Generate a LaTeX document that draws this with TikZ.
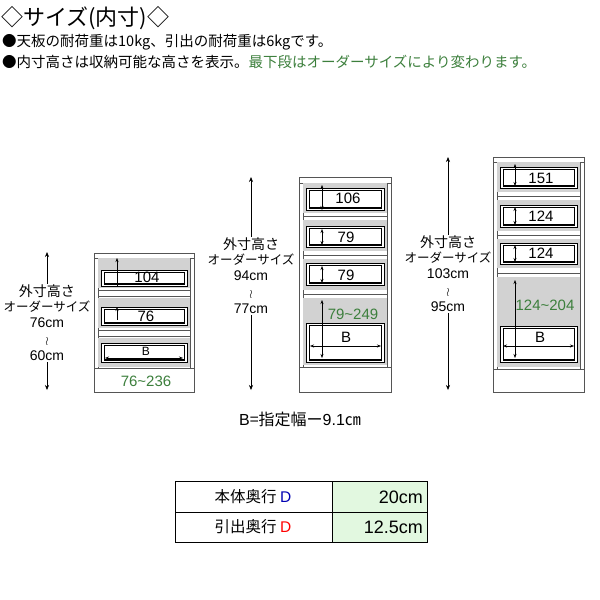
\documentclass[tikz,border=0pt]{standalone}
\usepackage{fontspec}
\setmainfont{Noto Sans CJK JP}
\newfontfamily\latinf{Liberation Sans}
\usetikzlibrary{arrows.meta}
\definecolor{cabgray}{HTML}{D2D2D2}
\definecolor{txtgreen}{HTML}{3C7F3C}
\definecolor{tabgreen}{HTML}{E2F8E0}
\definecolor{outl}{HTML}{555555}
\tikzset{
 cab/.style={draw=outl,line width=0.7pt,fill=white},
 face/.style={draw=black,line width=0.6pt,fill=white},
 dim/.style={line width=0.5pt,{Stealth[length=4pt,width=3pt]}-{Stealth[length=4pt,width=3pt]}},
 lab/.style={fill=white,align=center,inner sep=1pt,font=\fontsize{14}{16.5}\selectfont},
 num/.style={font=\latinf\fontsize{15}{15}\selectfont,inner sep=0pt},
 gnum/.style={num,text=txtgreen},
 bigarr/.style={line width=0.6pt,-{Stealth[length=5pt,width=4pt]}},
}
\newcommand\drw[6]{%
 \fill[cabgray] (#1,#3) rectangle (#2,#4);
 \draw[face] ({#1+3},#5) rectangle ({#2-3},#6);
 \draw[line width=0.5pt] ({#1+6},{#5+2}) rectangle ({#2-6},{#6-2});
 \draw[line width=1.3pt] ({#1+6},{#6-2.5}) -- ({#2-6},{#6-2.5});}
\newcommand\oss{{\fontsize{12.5}{13}\selectfont オーダーサイズ}}
\newcommand\wav{{\fontsize{12}{8}\selectfont $\wr$}}
\begin{document}
\begin{tikzpicture}[x=1pt,y=-1pt]
\useasboundingbox (0,0) rectangle (600,600);
% header
\node[anchor=west,inner sep=0pt,font=\fontsize{22}{22}\selectfont] (title) at (1,18) {◇サイズ(内寸)◇};
\node[anchor=west,inner sep=0pt,font=\fontsize{14.5}{15}\selectfont] (l1) at (2,42) {●天板の耐荷重は10kg、引出の耐荷重は6kgです。};
\node[anchor=west,inner sep=0pt,font=\fontsize{14.5}{15}\selectfont] (l2) at (2,62) {●内寸高さは収納可能な高さを表示。\textcolor{txtgreen}{最下段はオーダーサイズにより変わります。}};
% ---- cabinet 1
\draw[cab] (94,253) rectangle (194,392);
\draw[outl,line width=0.6pt] (98,258) -- (98,368) (190,258) -- (190,368) (94,258) -- (194,258) (94,368) -- (194,368);
\drw{98}{190}{258}{288}{270}{286}
\drw{98}{190}{298}{328}{307}{325}
\drw{98}{190}{338}{367}{343}{362}
\draw[outl,line width=0.5pt] (98,290)--(190,290) (98,296)--(190,296) (98,330)--(190,330) (98,336)--(190,336);
\draw[line width=0.5pt,-{Stealth[length=4pt,width=3pt]}] (117,270) -- (117,258);
\draw[line width=0.5pt] (117,270) -- (117,286);
\draw[line width=0.5pt,-{Stealth[length=4pt,width=3pt]}] (117,320) -- (117,307);
\draw[dim] (105,358) -- (183,358);
\node[num] (c1a) at (147,277) {104};
\node[num] (c1b) at (146,316) {76};
\node[num,font=\latinf\fontsize{12}{12}\selectfont] (c1c) at (146,351) {B};
\node[gnum] (c1d) at (146,381) {76\textasciitilde 236};
\coordinate (a1t) at (47,252); \coordinate (a1b) at (47,390);
\draw[bigarr] (47,320) -- (a1t); \draw[bigarr] (47,320) -- (a1b);
\node[lab] (lab1) at (47,323) {外寸高さ\\[-2pt]\oss\\{\latinf 76cm}\\\wav\\{\latinf 60cm}};
% ---- cabinet 2
\draw[cab] (299,177) rectangle (391,392);
\draw[outl,line width=0.6pt] (303,183) -- (303,367) (387,183) -- (387,367) (299,183) -- (391,183) (299,367) -- (391,367);
\drw{303}{387}{183}{213}{188}{210}
\drw{303}{387}{220}{251}{226}{247}
\drw{303}{387}{259}{290}{263}{285}
\drw{303}{387}{298}{365}{323}{362}
\draw[outl,line width=0.5pt] (303,216)--(387,216) (303,255)--(387,255) (303,294)--(387,294);
\draw[dim] (322,185) -- (322,210);
\draw[dim] (322,229) -- (322,245);
\draw[dim] (322,266) -- (322,283);
\draw[dim] (322,300) -- (322,358);
\draw[dim] (310,346) -- (381,346);
\node[num] (c2a) at (348,198) {106};
\node[num] (c2b) at (346,237) {79};
\node[num] (c2c) at (346,275) {79};
\node[gnum] (c2d) at (353,314) {79\textasciitilde 249};
\node[num] (c2e) at (346,337) {B};
\coordinate (a2t) at (251,177); \coordinate (a2b) at (251,390);
\draw[bigarr] (251,276) -- (a2t); \draw[bigarr] (251,276) -- (a2b);
\node[lab] (lab2) at (251,276) {外寸高さ\\[-2pt]\oss\\{\latinf 94cm}\\\wav\\{\latinf 77cm}};
% ---- cabinet 3
\draw[cab] (493,157) rectangle (584,392);
\draw[outl,line width=0.6pt] (497,162) -- (497,369) (580,162) -- (580,369) (493,162) -- (584,162) (493,369) -- (584,369);
\drw{497}{580}{162}{192}{167}{188}
\drw{497}{580}{200}{231}{205}{227}
\drw{497}{580}{239}{268}{243}{264}
\drw{497}{580}{277}{367}{326}{362}
\draw[outl,line width=0.5pt] (497,196)--(580,196) (497,235)--(580,235) (497,273)--(580,273);
\draw[dim] (515,164) -- (515,186);
\draw[dim] (515,207) -- (515,225);
\draw[dim] (515,245) -- (515,262);
\draw[dim] (515,280) -- (515,358);
\draw[dim] (503,346) -- (574,346);
\node[num] (c3a) at (541,178) {151};
\node[num] (c3b) at (541,216) {124};
\node[num] (c3c) at (541,253) {124};
\node[gnum] (c3d) at (545,305) {124\textasciitilde 204};
\node[num] (c3e) at (540,337) {B};
\coordinate (a3t) at (448,157); \coordinate (a3b) at (448,390);
\draw[bigarr] (448,274) -- (a3t); \draw[bigarr] (448,274) -- (a3b);
\node[lab] (lab3) at (448,274) {外寸高さ\\[-2pt]\oss\\{\latinf 103cm}\\\wav\\{\latinf 95cm}};
% formula
\node[font=\fontsize{16}{16}\selectfont,inner sep=0pt] (bf) at (300,419) {{\latinf B}=指定幅ー{\latinf 9.1}㎝};
% table
\fill[tabgreen] (332,481) rectangle (427,542);
\draw[line width=0.6pt] (175,481) rectangle (427,542) (175,512)--(427,512) (332,481)--(332,542);
\node[font=\fontsize{15.5}{15.5}\selectfont,inner sep=0pt] (t1) at (253,497) {本体奥行 {\latinf\textcolor{blue!70!black}{D}}};
\node[font=\fontsize{15.5}{15.5}\selectfont,inner sep=0pt] (t2) at (253,527) {引出奥行 {\latinf\textcolor{red}{D}}};
\node[anchor=east,font=\latinf\fontsize{18}{18}\selectfont,inner sep=0pt] (t3) at (423,497) {20cm};
\node[anchor=east,font=\latinf\fontsize{18}{18}\selectfont,inner sep=0pt] (t4) at (423,527) {12.5cm};
\end{tikzpicture}
\end{document}
